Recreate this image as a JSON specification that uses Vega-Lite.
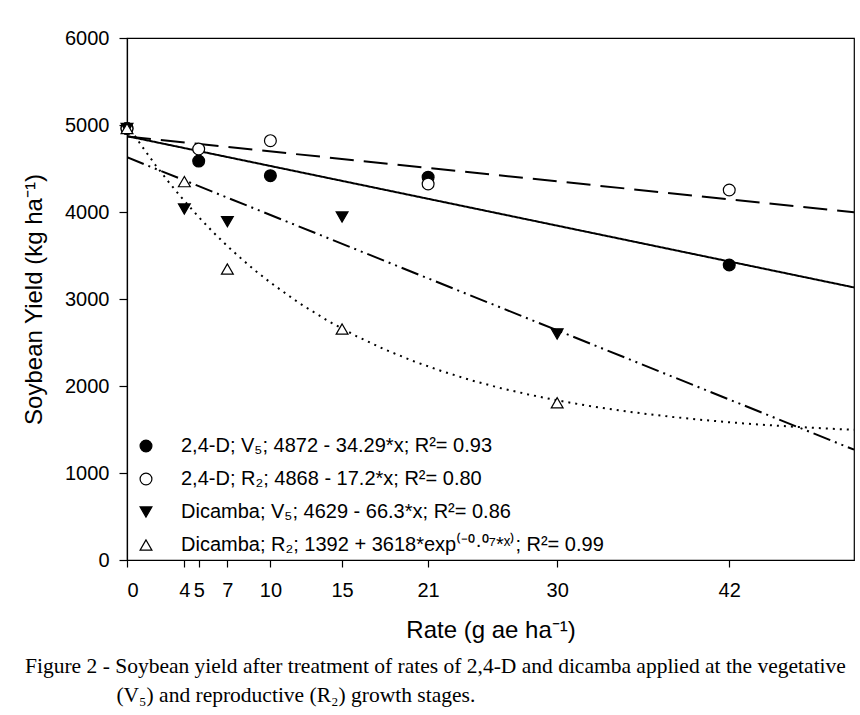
{
  "$schema": "https://vega.github.io/schema/vega-lite/v6.json",
  "width": 727,
  "height": 522,
  "autosize": {"type": "none"},
  "padding": {"left": 127, "top": 38, "right": 6, "bottom": 155},
  "background": "white",
  "config": {
    "view": {"stroke": "black", "strokeWidth": 1.2},
    "font": "Liberation Sans",
    "axis": {
      "grid": false,
      "domainColor": "black",
      "domainWidth": 1.2,
      "tickColor": "black",
      "tickWidth": 1.2,
      "labelColor": "black",
      "titleColor": "black",
      "labelFont": "Liberation Sans",
      "titleFont": "Liberation Sans",
      "labelFontSize": 20,
      "titleFontSize": 24,
      "titleFontWeight": "normal"
    },
    "legend": {
      "orient": "none",
      "legendX": 9,
      "legendY": 398,
      "title": null,
      "labelFontSize": 20,
      "labelFont": "Liberation Sans",
      "labelColor": "black",
      "labelLimit": 700,
      "labelOffset": 25,
      "rowPadding": 13,
      "symbolSize": 140,
      "symbolStrokeColor": "black",
      "symbolStrokeWidth": 1.2
    }
  },
  "title": {
    "text": [
      "Figure 2 - Soybean yield after treatment of rates of 2,4-D and dicamba applied at the vegetative",
      "\u200b\u00a0\u00a0\u00a0\u00a0\u00a0\u00a0\u00a0\u00a0\u00a0\u00a0\u00a0\u00a0\u00a0\u00a0\u00a0\u00a0\u00a0(V₅) and reproductive (R₂) growth stages."
    ],
    "orient": "bottom",
    "anchor": "start",
    "frame": "group",
    "dx": -102,
    "offset": 14,
    "font": "Liberation Serif",
    "fontSize": 21.5,
    "fontWeight": "normal",
    "color": "black",
    "lineHeight": 29
  },
  "datasets": {
    "points": [
      {"series": "2,4-D; V₅; 4872 - 34.29*x; R²= 0.93", "rate": 0, "yield": 4960},
      {"series": "2,4-D; V₅; 4872 - 34.29*x; R²= 0.93", "rate": 5, "yield": 4586},
      {"series": "2,4-D; V₅; 4872 - 34.29*x; R²= 0.93", "rate": 10, "yield": 4417},
      {"series": "2,4-D; V₅; 4872 - 34.29*x; R²= 0.93", "rate": 21, "yield": 4400},
      {"series": "2,4-D; V₅; 4872 - 34.29*x; R²= 0.93", "rate": 42, "yield": 3391},
      {"series": "2,4-D; R₂; 4868 - 17.2*x; R²= 0.80", "rate": 0, "yield": 4960},
      {"series": "2,4-D; R₂; 4868 - 17.2*x; R²= 0.80", "rate": 5, "yield": 4724},
      {"series": "2,4-D; R₂; 4868 - 17.2*x; R²= 0.80", "rate": 10, "yield": 4820},
      {"series": "2,4-D; R₂; 4868 - 17.2*x; R²= 0.80", "rate": 21, "yield": 4322},
      {"series": "2,4-D; R₂; 4868 - 17.2*x; R²= 0.80", "rate": 42, "yield": 4253},
      {"series": "Dicamba; V₅; 4629 - 66.3*x; R²= 0.86", "rate": 0, "yield": 4960},
      {"series": "Dicamba; V₅; 4629 - 66.3*x; R²= 0.86", "rate": 4, "yield": 4034},
      {"series": "Dicamba; V₅; 4629 - 66.3*x; R²= 0.86", "rate": 7, "yield": 3889},
      {"series": "Dicamba; V₅; 4629 - 66.3*x; R²= 0.86", "rate": 15, "yield": 3942},
      {"series": "Dicamba; V₅; 4629 - 66.3*x; R²= 0.86", "rate": 30, "yield": 2598},
      {"series": "Dicamba; R₂; 1392 + 3618*exp⁽⁻⁰·⁰⁷*ˣ⁾; R²= 0.99", "rate": 0, "yield": 4960},
      {"series": "Dicamba; R₂; 1392 + 3618*exp⁽⁻⁰·⁰⁷*ˣ⁾; R²= 0.99", "rate": 4, "yield": 4349},
      {"series": "Dicamba; R₂; 1392 + 3618*exp⁽⁻⁰·⁰⁷*ˣ⁾; R²= 0.99", "rate": 7, "yield": 3345},
      {"series": "Dicamba; R₂; 1392 + 3618*exp⁽⁻⁰·⁰⁷*ˣ⁾; R²= 0.99", "rate": 15, "yield": 2655},
      {"series": "Dicamba; R₂; 1392 + 3618*exp⁽⁻⁰·⁰⁷*ˣ⁾; R²= 0.99", "rate": 30, "yield": 1808}
    ],
    "fits": [
      {"fit": "2,4-D V5", "rate": 0, "yield": 4872},
      {"fit": "2,4-D V5", "rate": 50.7, "yield": 3133},
      {"fit": "2,4-D R2", "rate": 0, "yield": 4868},
      {"fit": "2,4-D R2", "rate": 50.7, "yield": 3996},
      {"fit": "Dicamba V5", "rate": 0, "yield": 4629},
      {"fit": "Dicamba V5", "rate": 50.7, "yield": 1268},
      {"fit": "Dicamba R2", "rate": 0, "yield": 5010},
      {"fit": "Dicamba R2", "rate": 1, "yield": 4765},
      {"fit": "Dicamba R2", "rate": 2, "yield": 4537},
      {"fit": "Dicamba R2", "rate": 3, "yield": 4325},
      {"fit": "Dicamba R2", "rate": 4, "yield": 4127},
      {"fit": "Dicamba R2", "rate": 5, "yield": 3942},
      {"fit": "Dicamba R2", "rate": 6, "yield": 3769},
      {"fit": "Dicamba R2", "rate": 7, "yield": 3608},
      {"fit": "Dicamba R2", "rate": 8, "yield": 3459},
      {"fit": "Dicamba R2", "rate": 9, "yield": 3319},
      {"fit": "Dicamba R2", "rate": 10, "yield": 3189},
      {"fit": "Dicamba R2", "rate": 12, "yield": 2954},
      {"fit": "Dicamba R2", "rate": 14, "yield": 2750},
      {"fit": "Dicamba R2", "rate": 16, "yield": 2573},
      {"fit": "Dicamba R2", "rate": 18, "yield": 2418},
      {"fit": "Dicamba R2", "rate": 20, "yield": 2284},
      {"fit": "Dicamba R2", "rate": 22, "yield": 2168},
      {"fit": "Dicamba R2", "rate": 24, "yield": 2066},
      {"fit": "Dicamba R2", "rate": 26, "yield": 1978},
      {"fit": "Dicamba R2", "rate": 28, "yield": 1902},
      {"fit": "Dicamba R2", "rate": 30, "yield": 1835},
      {"fit": "Dicamba R2", "rate": 32, "yield": 1777},
      {"fit": "Dicamba R2", "rate": 34, "yield": 1727},
      {"fit": "Dicamba R2", "rate": 36, "yield": 1683},
      {"fit": "Dicamba R2", "rate": 38, "yield": 1645},
      {"fit": "Dicamba R2", "rate": 40, "yield": 1612},
      {"fit": "Dicamba R2", "rate": 42, "yield": 1583},
      {"fit": "Dicamba R2", "rate": 44, "yield": 1558},
      {"fit": "Dicamba R2", "rate": 46, "yield": 1537},
      {"fit": "Dicamba R2", "rate": 48, "yield": 1518},
      {"fit": "Dicamba R2", "rate": 50, "yield": 1501},
      {"fit": "Dicamba R2", "rate": 50.7, "yield": 1496}
    ]
  },
  "encoding": {
    "x": {
      "field": "rate",
      "type": "quantitative",
      "scale": {"domain": [0, 50.7], "nice": false, "zero": false},
      "axis": {
        "values": [0, 4, 5, 7, 10, 15, 21, 30, 42],
        "tickSize": 7,
        "labelPadding": 13,
        "title": "Rate (g ae ha⁻¹)",
        "titlePadding": 18
      }
    },
    "y": {
      "field": "yield",
      "type": "quantitative",
      "scale": {"domain": [0, 6000], "nice": false},
      "axis": {
        "values": [0, 1000, 2000, 3000, 4000, 5000, 6000],
        "format": "d",
        "tickSize": 8,
        "labelPadding": 10,
        "title": "Soybean Yield (kg ha⁻¹)",
        "titlePadding": 18
      }
    }
  },
  "layer": [
    {
      "data": {"name": "fits"},
      "mark": {"type": "line", "color": "black", "strokeWidth": 2, "clip": true},
      "encoding": {
        "detail": {"field": "fit"},
        "strokeDash": {
          "field": "fit",
          "type": "nominal",
          "scale": {
            "domain": ["2,4-D V5", "2,4-D R2", "Dicamba V5", "Dicamba R2"],
            "range": [[1, 0], [24, 10], [18, 5, 2, 5, 2, 5], [2, 5]]
          },
          "legend": null
        }
      }
    },
    {
      "data": {"name": "points"},
      "mark": {"type": "point", "filled": true, "strokeWidth": 1.2, "size": 140, "opacity": 1},
      "encoding": {
        "shape": {
          "field": "series",
          "type": "nominal",
          "scale": {
            "domain": [
              "2,4-D; V₅; 4872 - 34.29*x; R²= 0.93",
              "2,4-D; R₂; 4868 - 17.2*x; R²= 0.80",
              "Dicamba; V₅; 4629 - 66.3*x; R²= 0.86",
              "Dicamba; R₂; 1392 + 3618*exp⁽⁻⁰·⁰⁷*ˣ⁾; R²= 0.99"
            ],
            "range": ["circle", "circle", "triangle-down", "triangle-up"]
          }
        },
        "fill": {
          "field": "series",
          "type": "nominal",
          "scale": {
            "domain": [
              "2,4-D; V₅; 4872 - 34.29*x; R²= 0.93",
              "2,4-D; R₂; 4868 - 17.2*x; R²= 0.80",
              "Dicamba; V₅; 4629 - 66.3*x; R²= 0.86",
              "Dicamba; R₂; 1392 + 3618*exp⁽⁻⁰·⁰⁷*ˣ⁾; R²= 0.99"
            ],
            "range": ["black", "white", "black", "white"]
          }
        },
        "stroke": {
          "field": "series",
          "type": "nominal",
          "scale": {
            "domain": [
              "2,4-D; V₅; 4872 - 34.29*x; R²= 0.93",
              "2,4-D; R₂; 4868 - 17.2*x; R²= 0.80",
              "Dicamba; V₅; 4629 - 66.3*x; R²= 0.86",
              "Dicamba; R₂; 1392 + 3618*exp⁽⁻⁰·⁰⁷*ˣ⁾; R²= 0.99"
            ],
            "range": ["black", "black", "black", "black"]
          }
        }
      }
    }
  ]
}
